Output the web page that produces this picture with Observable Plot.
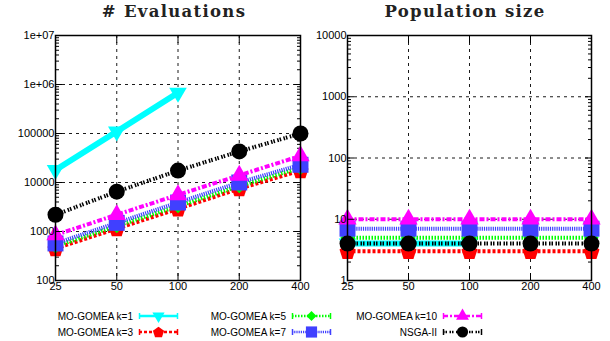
<!DOCTYPE html>
<html><head><meta charset="utf-8">
<script src="https://cdn.jsdelivr.net/npm/d3@7"></script>
<script src="https://cdn.jsdelivr.net/npm/@observablehq/plot@0.6"></script>
<style>
body{margin:0;background:#fff;}
#wrap{position:relative;width:610px;height:341px;overflow:hidden;font-family:"Liberation Sans",Arial,sans-serif;background:#fff;}
.panel{position:absolute;top:0;}
.panel svg{overflow:visible;}
.title{position:absolute;top:4px;line-height:1;font-family:"DejaVu Serif",serif;font-weight:bold;font-size:16.5px;letter-spacing:1.3px;white-space:nowrap;transform:translateX(-50%);color:#222;}
.leg{position:absolute;font-size:10px;white-space:nowrap;display:flex;align-items:center;}
.leg span{display:inline-block;text-align:right;}
</style></head>
<body><div id="wrap"></div>
<script>
// ---- data ----
const problemSizes = [25, 50, 100, 200, 400];
const xTickLabels = ["25", "50", "100", "200", "400"];
const evalTicks = [1e2, 1e3, 1e4, 1e5, 1e6, 1e7];
const evalTickLabels = ["100", "1000", "10000", "100000", "1e+06", "1e+07"];
const popTicks = [1, 10, 100, 1000, 10000];
const popTickLabels = ["1", "10", "100", "1000", "10000"];

const seriesNames = ["MO-GOMEA k=1", "MO-GOMEA k=3", "MO-GOMEA k=5", "MO-GOMEA k=7", "MO-GOMEA k=10", "NSGA-II"];
const evalK1 = [18000, 110000, 680000];
const evalK3 = [450, 1150, 2900, 7500, 17500];
const evalK5 = [500, 1300, 3300, 8500, 20000];
const evalK7 = [570, 1500, 3900, 10000, 23000];
const evalK10 = [850, 2200, 5600, 14000, 35000];
const evalNSGA = [2200, 6500, 17500, 43000, 100000];
const popK1 = [4, 4, 4];
const popK3 = [3, 3, 3, 3, 3];
const popK5 = [5, 5, 5, 5, 5];
const popK7 = [7, 7, 7, 7, 7];
const popK10 = [10, 10, 10, 10, 10];
const popNSGA = [4, 4, 4, 4, 4];

// ---- styles ----
const pentagon = {draw(ctx, size){const r = Math.sqrt(size/Math.PI)*1.12; for(let i=0;i<5;i++){const a=-Math.PI/2+i*2*Math.PI/5; const x=r*Math.cos(a), y=r*Math.sin(a)+r*0.1; i?ctx.lineTo(x,y):ctx.moveTo(x,y);} ctx.closePath();}};
const styles = [
  {color:"#00ffff", dash:null, width:6, symbol:"triangle", rotate:180, r:6.5},
  {color:"#ff0000", dash:"3,2", width:4, symbol:pentagon, rotate:0, r:7.5},
  {color:"#00ff00", dash:"1.5,1.5", width:4, symbol:"diamond2", rotate:0, r:6.5},
  {color:"#4040ff", dash:"1.2,1", width:4, symbol:"square", rotate:0, r:9},
  {color:"#ff00ff", dash:"5,2,2,2", width:4, symbol:"triangle", rotate:0, r:6.8},
  {color:"#000000", dash:"1.5,1,1.5,2.5", width:4, symbol:"circle", rotate:0, r:8}
];

function rows(vals, i){ return vals.map((v,j)=>({x:problemSizes[j], y:v, s:i})); }
const evalData = [evalK1, evalK3, evalK5, evalK7, evalK10, evalNSGA].map(rows);
const popData = [popK1, popK3, popK5, popK7, popK10, popNSGA].map(rows);

function minorTicks(lo, hi){ const out=[]; for(let d=lo; d<hi; d*=10) for(let k=2;k<=9;k++) out.push(d*k); return out; }

function panel(data, yTicks, yLabels, yDomain, mL, mR){
  const grid = {stroke:"black", strokeOpacity:1, strokeWidth:0.9, strokeDasharray:"3,4"};
  const marks = [
    Plot.gridX(problemSizes, grid),
    Plot.gridY(yTicks, grid),
    Plot.axisY(minorTicks(yDomain[0], yDomain[1]), {anchor:"left", tickSize:-4, tickFormat:()=>"", label:null}),
    Plot.axisY(minorTicks(yDomain[0], yDomain[1]), {anchor:"right", tickSize:-4, tickFormat:()=>"", label:null}),
    Plot.axisY(yTicks, {anchor:"right", tickSize:-7, tickFormat:()=>"", label:null}),
    Plot.axisX(problemSizes, {anchor:"top", tickSize:-7, tickFormat:()=>"", label:null}),
  ];
  data.forEach((d,i)=>{
    const st = styles[i];
    marks.push(Plot.line(d, {x:"x", y:"y", stroke:st.color, strokeWidth:st.width, strokeDasharray:st.dash, strokeLinecap:"butt"}));
    marks.push(Plot.dot(d, {x:"x", y:"y", fill:st.color, stroke:"none", symbol:()=>st.symbol, r:st.r, rotate:st.rotate}));
  });
  marks.push(Plot.frame({stroke:"black", strokeWidth:1.5}));
  marks.push(Plot.axisY(yTicks, {anchor:"left", tickSize:-7, tickPadding:8, tickFormat:(d)=>yLabels[yTicks.indexOf(d)], fontSize:11, label:null}));
  marks.push(Plot.axisX(problemSizes, {anchor:"bottom", tickSize:-7, tickPadding:9, tickFormat:(d)=>xTickLabels[problemSizes.indexOf(d)], fontSize:11, label:null}));
  return Plot.plot({
    width:305, height:300, marginLeft:mL, marginRight:mR, marginTop:35, marginBottom:20,
    x:{type:"log", base:2, domain:[25,400], label:null},
    y:{type:"log", domain:yDomain, label:null},
    symbol:{type:"identity"},
    style:{fontFamily:"Liberation Sans, Arial, sans-serif", fontSize:"11px", color:"black", background:"transparent", overflow:"visible"},
    marks
  });
}

const wrap = document.getElementById("wrap");
const p1 = document.createElement("div"); p1.className="panel"; p1.style.left="0px";
p1.appendChild(panel(evalData, evalTicks, evalTickLabels, [100, 1e7], 55, 5));
const p2 = document.createElement("div"); p2.className="panel"; p2.style.left="305px";
p2.appendChild(panel(popData, popTicks, popTickLabels, [1, 10000], 42, 19));
wrap.appendChild(p2); wrap.appendChild(p1);

const t1 = document.createElement("div"); t1.className="title"; t1.style.left="174px"; t1.textContent="# Evaluations"; wrap.appendChild(t1);
const t2 = document.createElement("div"); t2.className="title"; t2.style.left="465px"; t2.textContent="Population size"; wrap.appendChild(t2);

// ---- legend ----
const legPos = [
  {right:133, top:316}, {right:133, top:332},
  {right:286, top:316}, {right:286, top:332},
  {right:437, top:316}, {right:437, top:332}
];
[0,1,2,3,4,5].forEach(i=>{
  const st = styles[i], pos = legPos[i];
  const div = document.createElement("div"); div.className="leg";
  div.style.left = (pos.right-160)+"px"; div.style.top=(pos.top-7)+"px";
  const sp = document.createElement("span"); sp.style.width="160px"; sp.textContent = seriesNames[i];
  div.appendChild(sp);
  const svg = d3.create("svg").attr("width",46).attr("height",14).style("overflow","visible");
  const g = svg.append("g").attr("transform","translate(6,7)");
  g.append("line").attr("x1",0).attr("x2",39).attr("y1",0).attr("y2",0).attr("stroke",st.color).attr("stroke-width",2.5).attr("stroke-dasharray",st.dash);
  g.append("line").attr("x1",0.5).attr("x2",0.5).attr("y1",-3).attr("y2",3).attr("stroke",st.color).attr("stroke-width",1.5);
  g.append("line").attr("x1",38.5).attr("x2",38.5).attr("y1",-3).attr("y2",3).attr("stroke",st.color).attr("stroke-width",1.5);
  const sym = typeof st.symbol === "string" ? ({circle:d3.symbolCircle,square:d3.symbolSquare,triangle:d3.symbolTriangle,diamond2:d3.symbolDiamond2})[st.symbol] : st.symbol;
  const rr = st.r*0.7;
  g.append("path").attr("d", d3.symbol(sym, Math.PI*rr*rr)()).attr("fill",st.color).attr("transform",`translate(19.5,0) rotate(${st.rotate})`);
  div.appendChild(svg.node());
  wrap.appendChild(div);
});
</script></body></html>
